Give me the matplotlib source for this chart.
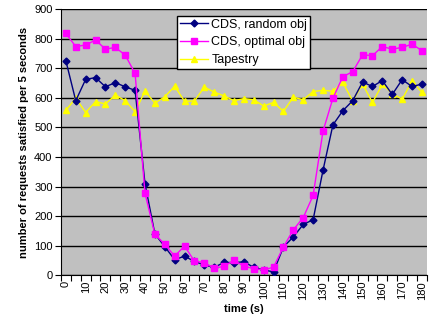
import matplotlib.pyplot as plt
import numpy as np

plt.rcParams['font.family'] = ['Liberation Sans', 'DejaVu Sans']

# time in seconds, one sample every 5 s
times = list(range(0, 181, 5))

cds_random = [725, 590, 662, 668, 637, 651, 637, 625, 310, 140,
              97, 53, 65, 47, 35, 27, 44, 43, 46, 27,
              18, 12, 96, 130, 172, 188, 355, 508, 556, 590,
              653, 638, 658, 611, 661, 638, 646]
cds_optimal = [817, 773, 778, 795, 764, 770, 744, 682, 278, 139,
               105, 65, 99, 48, 43, 24, 31, 51, 31, 23,
               18, 28, 96, 154, 195, 270, 487, 598, 671, 688,
               745, 742, 773, 764, 770, 781, 759]
tapestry = [557, 599, 550, 587, 579, 609, 590, 553, 622, 582,
            603, 639, 588, 589, 636, 619, 606, 590, 597, 593,
            572, 584, 554, 602, 593, 621, 625, 622, 652, 589,
            646, 584, 645, 614, 595, 656, 618]

fig = plt.figure(figsize=(4.29, 3.18), dpi=100)
ax = fig.add_axes([0.142, 0.134, 0.853, 0.838])
ax.set_facecolor('#c0c0c0')

idx = np.arange(len(times))
ax.plot(idx, cds_random, color='#000080', lw=1, marker='D', ms=3.5,
        label='CDS, random obj', zorder=3)
ax.plot(idx, cds_optimal, color='#ff00ff', lw=1, marker='s', ms=4.5,
        label='CDS, optimal obj', zorder=4)
ax.plot(idx, tapestry, color='#ffff00', lw=1, marker='^', ms=5,
        label='Tapestry', zorder=2)

ax.set_ylim(0, 900)
ax.set_xlim(-0.5, len(times) - 0.5)
ax.set_yticks(range(0, 901, 100))
ax.yaxis.grid(True, color='black', lw=1)
ax.set_axisbelow(True)

# category axis: ticks between categories, labels every 10 s
ax.set_xticks(np.arange(-0.5, len(times), 1.0))
ax.set_xticklabels([])
ax.set_xticks(idx[::2], minor=True)
ax.set_xticklabels([str(t) for t in times[::2]], minor=True, rotation=90, fontsize=8)
ax.tick_params(axis='x', which='minor', length=0, pad=4)
ax.tick_params(axis='x', which='major', length=4, direction='out')
ax.tick_params(axis='y', length=4, labelsize=8, pad=2)

for side in ['top', 'right']:
    ax.spines[side].set_visible(False)

ax.set_ylabel('number of requests satisfied per 5 seconds', fontsize=8, fontweight='bold', labelpad=4)
ax.set_xlabel('time (s)', fontsize=8, fontweight='bold', labelpad=3)

leg = ax.legend(loc='upper left', bbox_to_anchor=(0.317, 0.975), borderaxespad=0,
                fontsize=9, frameon=True, fancybox=False, edgecolor='black',
                framealpha=1, handlelength=2.2, borderpad=0.25, labelspacing=0.45,
                handletextpad=0.3)
leg.get_frame().set_linewidth(1)

fig.savefig('out.png', dpi=100)
